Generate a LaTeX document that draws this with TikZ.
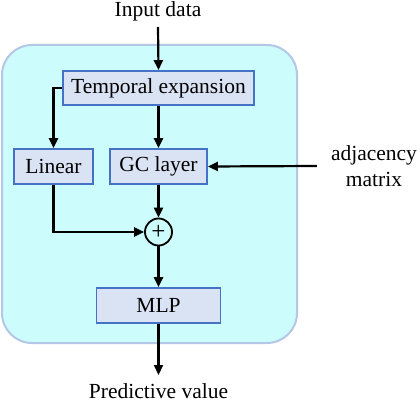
\documentclass[tikz,border=0pt]{standalone}
\usepackage{fontspec}
\setmainfont{Liberation Serif}
\usetikzlibrary{arrows.meta,calc}
\definecolor{paper}{HTML}{FFFFFF}
\definecolor{ink}{HTML}{000000}
\definecolor{lagoon}{HTML}{CCFCFC}
\definecolor{lagoonedge}{HTML}{B4C7E7}
\definecolor{blockfill}{HTML}{DAE3F3}
\definecolor{blockedge}{HTML}{4472C4}
\tikzset{
  module/.style={rectangle,rounded corners=30pt,draw=lagoonedge,fill=lagoon,
                 line width=2pt},
  block/.style={rectangle,draw=blockedge,fill=blockfill,line width=1.8pt,
                inner sep=0pt,font=\blockfont},
  summer/.style={circle,draw=ink,fill=lagoon,line width=1.8pt,
                 minimum size=27pt,inner sep=0pt,font=\plusfont},
  flow/.style={draw=ink,line width=2.2pt,-{Triangle[length=10pt,width=9pt]}},
  every node/.style={text=ink}
}
\newcommand{\blockfont}{\fontsize{21.5}{25.5}\selectfont}
\newcommand{\plusfont}{\fontsize{25}{25}\selectfont}

\begin{document}
\begin{tikzpicture}[x=1pt,y=1pt]
  \useasboundingbox (0,0) rectangle (420,402);
  \fill[paper] (0,0) rectangle (420,402);

  % ========================= MODULE BACKGROUND =========================
  \draw[module] (2,59) rectangle (297,357);

  % Inputs
  \node[font=\blockfont] (inp) at (158,391) {Input data};
  \coordinate (inpend) at (158,375);
  \node[font=\blockfont,align=center,inner ysep=0pt,inner xsep=14pt]
    (adj) at (374,236) {adjacency\\matrix};

  % Blocks
  \node[block,minimum width=191pt,minimum height=34pt] (temp) at (158.5,314)
    {Temporal expansion};
  \node[block,minimum width=79pt,minimum height=35pt] (lin) at (53.5,235.5)
    {Linear};
  \node[block,minimum width=97pt,minimum height=35pt] (gc) at (158.5,235.5)
    {GC layer};
  \node[summer] (plus) at (158.5,170) {+};
  \node[block,minimum width=124pt,minimum height=35pt] (mlp) at (158.5,96.5)
    {MLP};

  % Output
  \coordinate (outend) at (158.5,27);
  \node[font=\blockfont] (out) at (158.5,11) {Predictive value};

  % ============================ CONNECTORS =============================
  \draw[flow] (inpend) -- (temp.north);
  \draw[flow] (temp.west) -| (lin.north);
  \draw[flow] (temp.south) -- (gc.north);
  \draw[flow] (adj.west) -- (gc.east);
  \draw[flow] (lin.south) |- (plus.west);
  \draw[flow] (gc.south) -- (plus.north);
  \draw[flow] (plus.south) -- (mlp.north);
  \draw[flow] (mlp.south) -- (outend);
\end{tikzpicture}
\end{document}
